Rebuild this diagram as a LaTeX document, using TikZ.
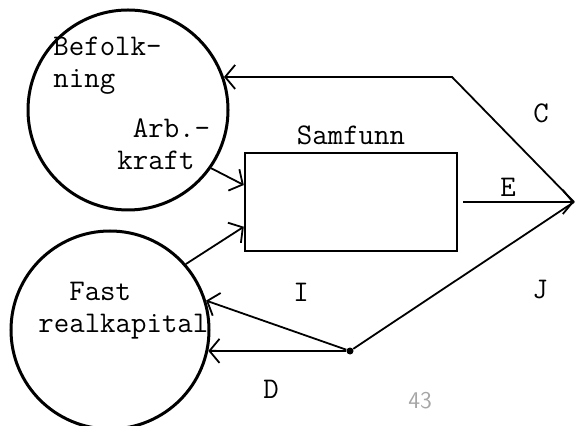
\documentclass[tikz,border=0pt]{standalone}
\usetikzlibrary{arrows.meta}

\begin{document}
\begin{tikzpicture}[x=0.5pt, y=-0.5pt, font=\ttfamily\fontsize{15}{16}\selectfont,
    flow/.style={-{Straight Barb[length=5pt, width=12pt]}, line width=0.9pt},
    txt/.style={inner sep=0pt, anchor=base west, align=left}]
      \useasboundingbox (0,0) rectangle (576,426);

      \node[circle, draw, line width=1.5pt, inner sep=0pt, minimum size=100pt] (bef) at (128,110) {};
      \node[circle, draw, line width=1.5pt, inner sep=0pt, minimum size=99pt] (kap) at (110,330) {};
      \node[draw, line width=1.2pt, inner sep=0pt, minimum width=106pt, minimum height=49pt,
        label={[inner sep=0pt, label distance=3.5pt]above:Samfunn}] (sam) at (351,202) {};
      \node[circle, fill, inner sep=0pt, minimum size=3.5pt] (dot) at (350,351) {};
      \coordinate (apex) at (574,202);
      \coordinate (ck) at (452,77);

      % base of a two-line node is its last line
      \node[txt] at (53,88) {Befolk-\\ning};
      \node[txt] at (117,170) {\ Arb.-\\kraft};
      \node[txt] at (38,332) {\ \ Fast\\realkapital};

      \node at (541,113) {C};
      \node at (508,187) {E};
      \node at (301,292) {I};
      \node at (540,290) {J};
      \node at (271,389) {D};
      \node[text=black!35, font=\sffamily\fontsize{12}{12}\selectfont] at (420,401) {43};

      \draw[flow] (apex) -- (ck) -- (bef.19);
      \draw[flow, shorten <=2.5pt] (sam.east) -- (apex);
      \draw[line width=0.9pt] (apex) -- (dot);
      \draw[flow] (dot) -- (kap.17);
      \draw[flow] (dot) -- (kap.-12);
      \draw[flow] (bef.-35) -- (sam.171);
      \draw[flow] (kap.41) -- (sam.193);
    \end{tikzpicture}
\end{document}
